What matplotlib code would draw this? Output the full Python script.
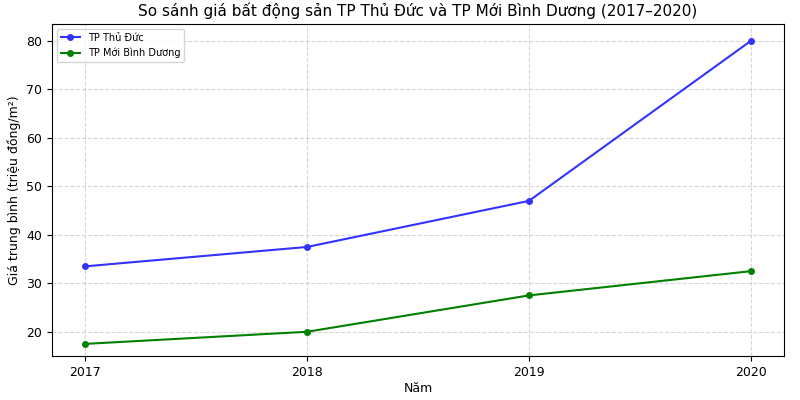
import matplotlib
matplotlib.use("Agg")
import matplotlib.pyplot as plt

years = [2017, 2018, 2019, 2020]
thu_duc = [33.5, 37.5, 47, 80]
binh_duong = [17.5, 20, 27.5, 32.5]

fig, ax = plt.subplots(figsize=(8, 4), dpi=100)
ax.plot(years, thu_duc, marker="o", markersize=4, color="#3333ff", label="TP Thủ Đức")
ax.plot(years, binh_duong, marker="o", markersize=4, color="green", label="TP Mới Bình Dương")
ax.set_title("So sánh giá bất động sản TP Thủ Đức và TP Mới Bình Dương (2017–2020)", fontsize=11)
ax.set_xlabel("Năm", fontsize=9, labelpad=2)
ax.set_ylabel("Giá trung bình (triệu đồng/m²)", fontsize=9)
ax.set_xticks(years)
ax.set_xlim(2016.85, 2020.15)
ax.set_ylim(15, 83.5)
ax.tick_params(labelsize=9)
ax.grid(True, linestyle="--", alpha=0.5)
ax.legend(loc="upper left", fontsize=7)
fig.subplots_adjust(left=0.065, right=0.98, top=0.94, bottom=0.11)
fig.savefig("out.png")
